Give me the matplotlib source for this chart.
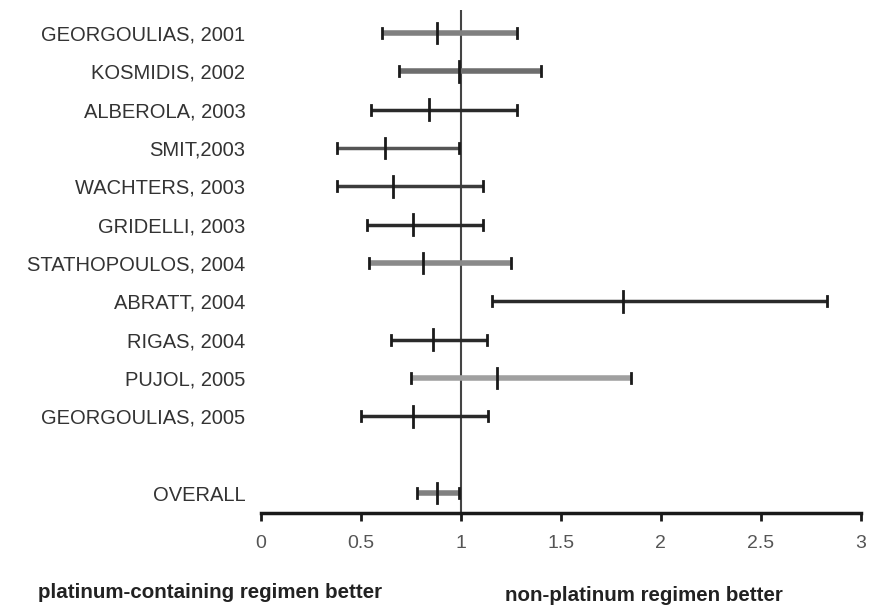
import matplotlib
matplotlib.use("Agg")
import matplotlib.pyplot as plt

studies = ["GEORGOULIAS, 2001", "KOSMIDIS, 2002", "ALBEROLA, 2003", "SMIT,2003",
           "WACHTERS, 2003", "GRIDELLI, 2003", "STATHOPOULOS, 2004", "ABRATT, 2004",
           "RIGAS, 2004", "PUJOL, 2005", "GEORGOULIAS, 2005", "OVERALL"]
estimate = [0.88, 0.99, 0.84, 0.62, 0.66, 0.76, 0.81, 1.81, 0.86, 1.18, 0.76, 0.88]
lower = [0.605, 0.69, 0.55, 0.38, 0.38, 0.53, 0.54, 1.155, 0.65, 0.75, 0.50, 0.78]
upper = [1.28, 1.40, 1.28, 0.99, 1.11, 1.11, 1.25, 2.83, 1.13, 1.85, 1.135, 0.99]
rows = [0, 1, 2, 3, 4, 5, 6, 7, 8, 9, 10, 12]
xticks = [0, 0.5, 1, 1.5, 2, 2.5, 3]
xticklabels = ["0", "0.5", "1", "1.5", "2", "2.5", "3"]
line_colors = ["#808080", "#6e6e6e", "#2a2a2a", "#555555", "#3c3c3c", "#2a2a2a",
               "#8a8a8a", "#2a2a2a", "#2a2a2a", "#a0a0a0", "#2a2a2a", "#808080"]
thick = {"#808080", "#8a8a8a", "#a0a0a0", "#6e6e6e"}

plt.rcParams["font.family"] = ["Liberation Sans", "DejaVu Sans"]

fig = plt.figure(figsize=(8.72, 6.06), dpi=100)
ax = fig.add_axes([0.299, 0.1535, 0.688, 0.83])

for r, e, lo, hi, c in zip(rows, estimate, lower, upper, line_colors):
    ax.plot([lo, hi], [r, r], color=c, lw=4 if c in thick else 2.5,
            solid_capstyle="butt", zorder=2)
    ax.plot([lo, lo], [r - 0.13, r + 0.13], color="#1a1a1a", lw=2, zorder=3)
    ax.plot([hi, hi], [r - 0.13, r + 0.13], color="#1a1a1a", lw=2, zorder=3)
    ax.plot([e, e], [r - 0.27, r + 0.27], color="#1a1a1a", lw=2, zorder=3)

ax.axvline(1, color="#444444", lw=1.5, zorder=1)

ax.set_xlim(0, 3)
ax.set_ylim(12.52, -0.6)
ax.set_yticks(rows)
ax.set_yticklabels(studies, fontsize=14.5, color="#333333")
ax.tick_params(axis="y", length=0, pad=11)
ax.set_xticks(xticks)
ax.set_xticklabels(xticklabels, fontsize=14, color="#555555")
ax.tick_params(axis="x", length=6, width=2, direction="out", pad=10, color="#1a1a1a")
for s in ["left", "right", "top"]:
    ax.spines[s].set_visible(False)
ax.spines["bottom"].set_linewidth(2.5)
ax.spines["bottom"].set_color("#1a1a1a")

fig.text(0.044, 0.014, "platinum-containing regimen better", fontsize=14.8, fontweight="bold",
         ha="left", va="baseline", color="#222222")
fig.text(0.579, 0.008, "non-platinum regimen better", fontsize=14.8, fontweight="bold",
         ha="left", va="baseline", color="#222222")

fig.savefig("out.png", dpi=100, facecolor="white")
